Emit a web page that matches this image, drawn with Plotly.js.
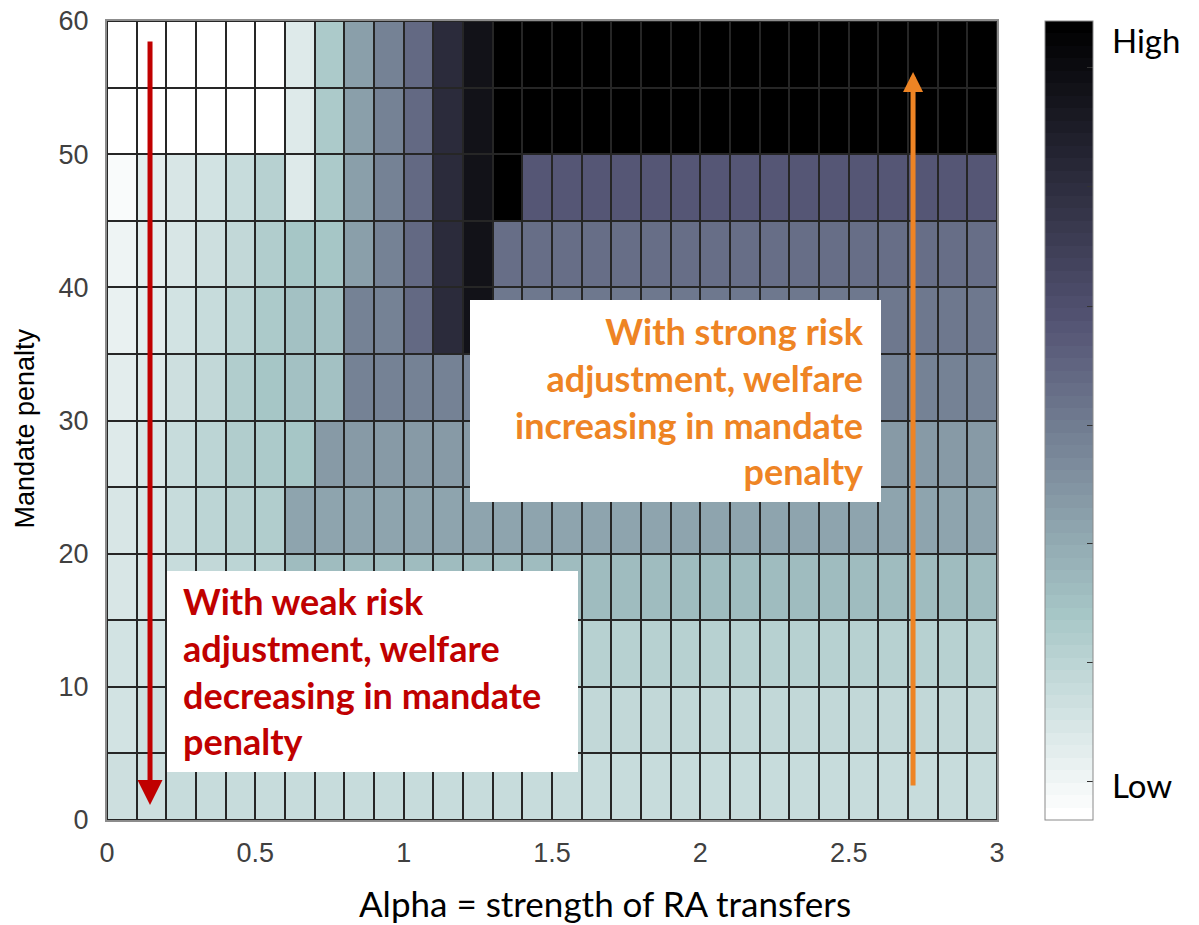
<!DOCTYPE html>
<html>
<head>
<meta charset="utf-8">
<script src="https://cdn.plot.ly/plotly-3.0.1.min.js"></script>
<style>
  html, body { margin: 0; padding: 0; background: #ffffff; }
  #chart { width: 1199px; height: 925px; }
</style>
</head>
<body>
<div id="chart"></div>
<script>
// Cell centres: RA transfer strength (alpha) and mandate penalty
const alpha = [0.05, 0.15, 0.25, 0.35, 0.45, 0.55, 0.65, 0.75, 0.85, 0.95,
               1.05, 1.15, 1.25, 1.35, 1.45, 1.55, 1.65, 1.75, 1.85, 1.95,
               2.05, 2.15, 2.25, 2.35, 2.45, 2.55, 2.65, 2.75, 2.85, 2.95];
const penalty = [2.5, 7.5, 12.5, 17.5, 22.5, 27.5, 32.5, 37.5, 42.5, 47.5, 52.5, 57.5];

// Relative welfare (0 = low, 1 = high), one row per penalty band
const welfare_0_5   = [0.15,0.15,0.16,0.16,0.16,0.16,0.16,0.16,0.16,0.16,0.16,0.16,0.16,0.16,0.16,0.16,0.16,0.16,0.16,0.16,0.16,0.16,0.16,0.16,0.16,0.16,0.16,0.16,0.16,0.16];
const welfare_5_10  = [0.14,0.15,0.16,0.17,0.17,0.18,0.18,0.18,0.18,0.18,0.18,0.18,0.18,0.18,0.18,0.18,0.18,0.18,0.18,0.18,0.18,0.18,0.18,0.18,0.18,0.18,0.18,0.18,0.18,0.18];
const welfare_10_15 = [0.13,0.14,0.16,0.17,0.18,0.19,0.20,0.21,0.21,0.21,0.21,0.21,0.21,0.21,0.21,0.21,0.21,0.21,0.21,0.21,0.21,0.21,0.21,0.21,0.21,0.21,0.21,0.21,0.21,0.21];
const welfare_15_20 = [0.12,0.12,0.16,0.18,0.19,0.21,0.29,0.29,0.29,0.29,0.29,0.29,0.29,0.29,0.29,0.29,0.29,0.29,0.29,0.29,0.29,0.29,0.29,0.29,0.29,0.29,0.29,0.29,0.29,0.29];
const welfare_20_25 = [0.11,0.12,0.17,0.19,0.21,0.23,0.36,0.36,0.36,0.36,0.36,0.36,0.36,0.36,0.36,0.36,0.36,0.36,0.36,0.36,0.36,0.36,0.36,0.36,0.36,0.36,0.36,0.36,0.36,0.36];
const welfare_25_30 = [0.10,0.11,0.16,0.19,0.22,0.24,0.26,0.40,0.40,0.40,0.40,0.40,0.40,0.40,0.40,0.40,0.40,0.40,0.40,0.40,0.40,0.40,0.40,0.40,0.40,0.40,0.40,0.40,0.40,0.40];
const welfare_30_35 = [0.08,0.10,0.15,0.18,0.22,0.25,0.27,0.28,0.47,0.47,0.47,0.47,0.47,0.47,0.47,0.47,0.47,0.47,0.47,0.47,0.47,0.47,0.47,0.47,0.47,0.47,0.47,0.47,0.47,0.47];
const welfare_35_40 = [0.07,0.09,0.14,0.17,0.20,0.24,0.27,0.28,0.47,0.47,0.56,0.80,0.92,0.51,0.51,0.51,0.51,0.51,0.51,0.51,0.51,0.51,0.51,0.51,0.51,0.51,0.51,0.51,0.51,0.51];
const welfare_40_45 = [0.05,0.08,0.12,0.15,0.18,0.23,0.26,0.25,0.38,0.47,0.56,0.80,0.92,0.54,0.54,0.54,0.54,0.54,0.54,0.54,0.54,0.54,0.54,0.54,0.54,0.54,0.54,0.54,0.54,0.54];
const welfare_45_50 = [0.02,0.08,0.11,0.14,0.17,0.21,0.10,0.24,0.38,0.47,0.56,0.80,0.92,1.00,0.61,0.61,0.61,0.61,0.61,0.61,0.61,0.61,0.61,0.61,0.61,0.61,0.61,0.61,0.61,0.61];
const welfare_50_55 = [0.00,0.00,0.00,0.00,0.00,0.00,0.10,0.24,0.38,0.47,0.56,0.80,0.92,1.00,1.00,1.00,1.00,1.00,1.00,1.00,1.00,1.00,1.00,1.00,1.00,1.00,1.00,1.00,1.00,1.00];
const welfare_55_60 = [0.00,0.00,0.00,0.00,0.00,0.00,0.10,0.24,0.38,0.47,0.56,0.80,0.92,1.00,1.00,1.00,1.00,1.00,1.00,1.00,1.00,1.00,1.00,1.00,1.00,1.00,1.00,1.00,1.00,1.00];

const welfare = [welfare_0_5, welfare_5_10, welfare_10_15, welfare_15_20,
                 welfare_20_25, welfare_25_30, welfare_30_35, welfare_35_40,
                 welfare_40_45, welfare_45_50, welfare_50_55, welfare_55_60];

// Colour bar tick positions and end labels
const barTicks = [0.048, 0.197, 0.346, 0.494, 0.643, 0.793, 0.942];
const barLabels = ["Low", "High"];

// Annotation texts
const weakText = ["With weak risk", "adjustment, welfare", "decreasing in mandate", "penalty"];
const strongText = ["With strong risk", "adjustment, welfare", "increasing in mandate", "penalty"];

// Reversed "bone" colormap in 64 discrete steps (white -> teal -> slate -> black)
function boneRGB(t) {
  const clamp = v => Math.max(0, Math.min(1, v));
  const hr = clamp(t / 0.375), hg = clamp((t - 0.375) / 0.375), hb = clamp((t - 0.75) / 0.25);
  const r = (7 * t + hb) / 8, g = (7 * t + hg) / 8, b = (7 * t + hr) / 8;
  return 'rgb(' + Math.round(r * 255) + ',' + Math.round(g * 255) + ',' + Math.round(b * 255) + ')';
}
const nLevels = 64;
const colorscale = [];
for (let i = 0; i < nLevels; i++) {
  const c = boneRGB(1 - i / (nLevels - 1));
  colorscale.push([i / nLevels, c]);
  colorscale.push([(i + 1) / nLevels, c]);
}

const trace = {
  type: 'heatmap',
  x: alpha,
  y: penalty,
  z: welfare,
  zmin: 0,
  zmax: 1,
  colorscale: colorscale,
  xgap: 2,
  ygap: 2,
  hoverinfo: 'skip',
  colorbar: {
    x: 1.054, xanchor: 'left', xpad: 0,
    y: 0.5, yanchor: 'middle', ypad: 0,
    len: 1, lenmode: 'fraction',
    thickness: 48, thicknessmode: 'pixels',
    outlinewidth: 1, outlinecolor: '#8a8a8a',
    tickmode: 'array', tickvals: barTicks, ticktext: barTicks.map(() => ''),
    ticks: 'inside', ticklen: 6, tickwidth: 1, tickcolor: '#333333',
    showticklabels: false
  }
};

const tickFont = { family: 'Liberation Sans, Arial, sans-serif', size: 27, color: '#404040' };
const calloutFont = { family: 'Lato, sans-serif', size: 36, weight: 700 };

const layout = {
  width: 1199,
  height: 925,
  margin: { l: 107, r: 202, t: 21, b: 105, pad: 0 },
  paper_bgcolor: '#ffffff',
  plot_bgcolor: '#262626',
  showlegend: false,
  xaxis: {
    range: [0, 3], tickmode: 'linear', tick0: 0, dtick: 0.5,
    ticks: '', showgrid: false, zeroline: false,
    showline: true, mirror: true, linecolor: '#8c8c8c', linewidth: 2,
    tickfont: tickFont, ticklabelstandoff: 8
  },
  yaxis: {
    range: [0, 60], tickmode: 'linear', tick0: 0, dtick: 10,
    ticks: '', showgrid: false, zeroline: false,
    showline: true, mirror: true, linecolor: '#8c8c8c', linewidth: 2,
    tickfont: tickFont, ticklabelstandoff: 11
  },
  annotations: [
    // axis titles
    { xref: 'paper', yref: 'paper', x: 0.5596, y: -0.104, xanchor: 'center', yanchor: 'middle',
      text: 'Alpha = strength of RA transfers', showarrow: false,
      font: { family: 'Lato, sans-serif', size: 35, color: '#000000' } },
    { xref: 'paper', yref: 'paper', x: -0.0921, y: 0.49, xanchor: 'center', yanchor: 'middle',
      text: 'Mandate penalty', textangle: -90, showarrow: false,
      font: { family: 'Liberation Sans Narrow, Liberation Sans, sans-serif', size: 27, color: '#000000' } },
    // colour bar end labels
    { xref: 'paper', yref: 'paper', x: 1.127, y: 0.976, xanchor: 'left', yanchor: 'middle',
      text: barLabels[1], showarrow: false,
      font: { family: 'Lato, sans-serif', size: 33, color: '#000000' } },
    { xref: 'paper', yref: 'paper', x: 1.127, y: 0.044, xanchor: 'left', yanchor: 'middle',
      text: barLabels[0], showarrow: false,
      font: { family: 'Lato, sans-serif', size: 33, color: '#000000' } },
    // arrows
    { xref: 'x', yref: 'y', axref: 'x', ayref: 'y', x: 0.145, y: 1.13, ax: 0.145, ay: 58.57,
      text: '', showarrow: true, arrowhead: 2, arrowsize: 1, arrowwidth: 5, arrowcolor: '#C00000', standoff: 0, startstandoff: 0 },
    { xref: 'x', yref: 'y', axref: 'x', ayref: 'y', x: 2.717, y: 56.17, ax: 2.717, ay: 2.48,
      text: '', showarrow: true, arrowhead: 2, arrowsize: 0.8, arrowwidth: 5, arrowcolor: '#EE8424', standoff: 0, startstandoff: 0 },
    // callout backgrounds
    { xref: 'x', yref: 'y', x: 0.2022, y: 18.70, xanchor: 'left', yanchor: 'top',
      text: ' ', showarrow: false, width: 411, height: 201, borderpad: 0, borderwidth: 0, bgcolor: '#ffffff' },
    { xref: 'x', yref: 'y', x: 1.2236, y: 39.05, xanchor: 'left', yanchor: 'top',
      text: ' ', showarrow: false, width: 411, height: 202, borderpad: 0, borderwidth: 0, bgcolor: '#ffffff' },
    // callout texts
    { xref: 'x', yref: 'y', x: 0.2495, y: 11.19, xanchor: 'left', yanchor: 'middle',
      text: weakText.join('<br>'), showarrow: false, align: 'left',
      font: Object.assign({ color: '#C00000' }, calloutFont) },
    { xref: 'x', yref: 'y', x: 2.558, y: 31.46, xanchor: 'right', yanchor: 'middle',
      text: strongText.join('<br>'), showarrow: false, align: 'right',
      font: Object.assign({ color: '#EE8424' }, calloutFont) }
  ]
};

Plotly.newPlot('chart', [trace], layout, { displayModeBar: false, staticPlot: true });
</script>
</body>
</html>
